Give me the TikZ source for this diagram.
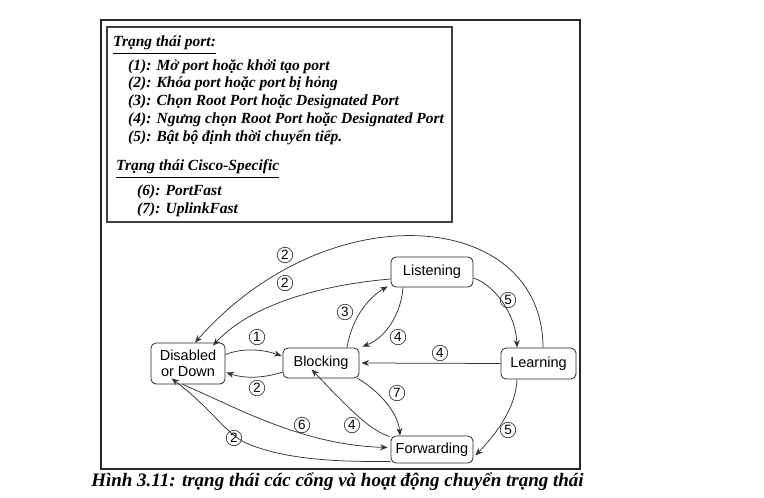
\documentclass[tikz,border=0pt]{standalone}
\usepackage{fontspec}
\setmainfont{Liberation Serif}
\newfontfamily\diagsans{Liberation Sans}
\usetikzlibrary{arrows.meta}
\tikzset{
  st/.style={draw=black!85, line width=0.8pt, rounded corners=5pt, font=\diagsans\fontsize{14.5}{16}\selectfont, align=center, inner sep=0pt},
  lbl/.style={draw=black!85, circle, line width=0.6pt, minimum size=15.5pt, inner sep=0pt, font=\diagsans\fontsize{13.5}{14}\selectfont},
  edge/.style={draw=black!80, line width=0.75pt, -{Stealth[length=7.5pt,width=6pt]}},
  legtext/.style={anchor=west, inner sep=0pt, font=\bfseries\itshape\fontsize{15.5}{17}\selectfont},
}
\begin{document}
\begin{tikzpicture}[x=1pt,y=-1pt]
\useasboundingbox (0,0) rectangle (764,498);
% frames
\draw[line width=1.3pt, black!85] (101,20) rectangle (580,469);
\draw[line width=1.3pt, black!75] (107,27) rectangle (452,222);
% legend
\node[legtext] (h1) at (113,43) {Trạng thái port:};
\draw[line width=0.8pt] ([yshift=-3pt]h1.south west) -- ([yshift=-3pt]h1.south east);
\node[legtext] (l1) at (128,67) {(1): Mở port hoặc khởi tạo port};
\node[legtext] (l2) at (128,84) {(2): Khóa port hoặc port bị hỏng};
\node[legtext] (l3) at (128,102) {(3): Chọn Root Port hoặc Designated Port};
\node[legtext] (l4) at (128,120) {(4): Ngưng chọn Root Port hoặc Designated Port};
\node[legtext] (l5) at (128,138) {(5): Bật bộ định thời chuyển tiếp.};
\node[legtext] (h2) at (116,167) {Trạng thái Cisco-Specific};
\draw[line width=0.8pt] ([yshift=-3pt]h2.south west) -- ([yshift=-3pt]h2.south east);
\node[legtext] (l6) at (137,192) {(6): PortFast};
\node[legtext] (l7) at (137,210) {(7): UplinkFast};
% states
\node[st, minimum width=74pt, minimum height=41pt] (dis) at (188,363.5) {Disabled\\or Down};
\node[st, minimum width=76pt, minimum height=30pt] (blk) at (321,363) {Blocking};
\node[st, minimum width=82pt, minimum height=30pt] (lis) at (432,272) {Listening};
\node[st, minimum width=75pt, minimum height=31pt] (lrn) at (538.5,363.5) {Learning};
\node[st, minimum width=82pt, minimum height=27pt] (fwd) at (432,449.5) {Forwarding};
\coordinate (k12) at (246,443);
% connectors
\draw[edge] ([xshift=4.5pt]lrn.north) .. controls (543,210) and (330,190) .. ([xshift=7pt]dis.north);
\draw[edge] ([yshift=-7pt]lis.west) .. controls (320,285) and (250,305) .. ([xshift=25pt,yshift=-3pt]dis.north);
\draw[edge] ([xshift=26pt]blk.north) .. controls (352,318) and (368,298) .. ([xshift=-3pt,yshift=1pt]lis.south west);
\draw[edge] ([xshift=-29pt]lis.south) .. controls (401,315) and (385,338) .. ([xshift=3pt,yshift=1pt]blk.north east);
\draw[edge] ([yshift=-6pt]lis.east) .. controls (495,285) and (516,315) .. ([xshift=-21.5pt]lrn.north);
\draw[edge] ([yshift=9pt]dis.east) .. controls (245,347) and (265,350) .. ([xshift=-1pt,yshift=7pt]blk.west);
\draw[edge] ([yshift=-9pt]blk.west) .. controls (265,378) and (245,379) .. ([xshift=1pt,yshift=-9pt]dis.east);
\draw[edge] (lrn.west) -- ([xshift=2pt]blk.east);
\draw[edge] ([xshift=-2pt]blk.south east) .. controls (378,390) and (398,412) .. ([xshift=-32pt]fwd.north);
\draw[edge] ([xshift=-1pt,yshift=-1pt]fwd.north west) .. controls (370,430) and (352,412) .. ([xshift=29pt,yshift=9pt]blk.south west);
\draw[edge] ([xshift=32pt]dis.south west) .. controls (232,405) and (300,445) .. ([xshift=-3pt,yshift=2pt]fwd.west);
\draw[edge] ([yshift=2pt]fwd.south west) .. controls (340,462) and (285,460) .. (k12) .. controls (225,433) and (213,410) .. ([xshift=21pt,yshift=6pt]dis.south west);
\draw[edge] ([xshift=-21.5pt]lrn.south) .. controls (516,405) and (500,430) .. ([xshift=2pt,yshift=-6pt]fwd.east);
% circled labels
\node[lbl] (c1) at (285,255) {2};
\node[lbl] (c2) at (285,283) {2};
\node[lbl] (c3) at (345,312) {3};
\node[lbl] (c4) at (398,337) {4};
\node[lbl] (c5) at (508,300) {5};
\node[lbl] (c6) at (257,337) {1};
\node[lbl] (c7) at (440,353) {4};
\node[lbl] (c8) at (257,388) {2};
\node[lbl] (c9) at (397,393) {7};
\node[lbl] (c10) at (302,425) {6};
\node[lbl] (c11) at (352,425) {4};
\node[lbl] (c12) at (508,430) {5};
\node[lbl] (c13) at (234,438) {2};
% caption
\node[font=\bfseries\itshape\fontsize{19}{22}\selectfont, inner sep=0pt] (cap) at (337.5,482) {Hình 3.11: trạng thái các cổng và hoạt động chuyển trạng thái};
\end{tikzpicture}
\end{document}
